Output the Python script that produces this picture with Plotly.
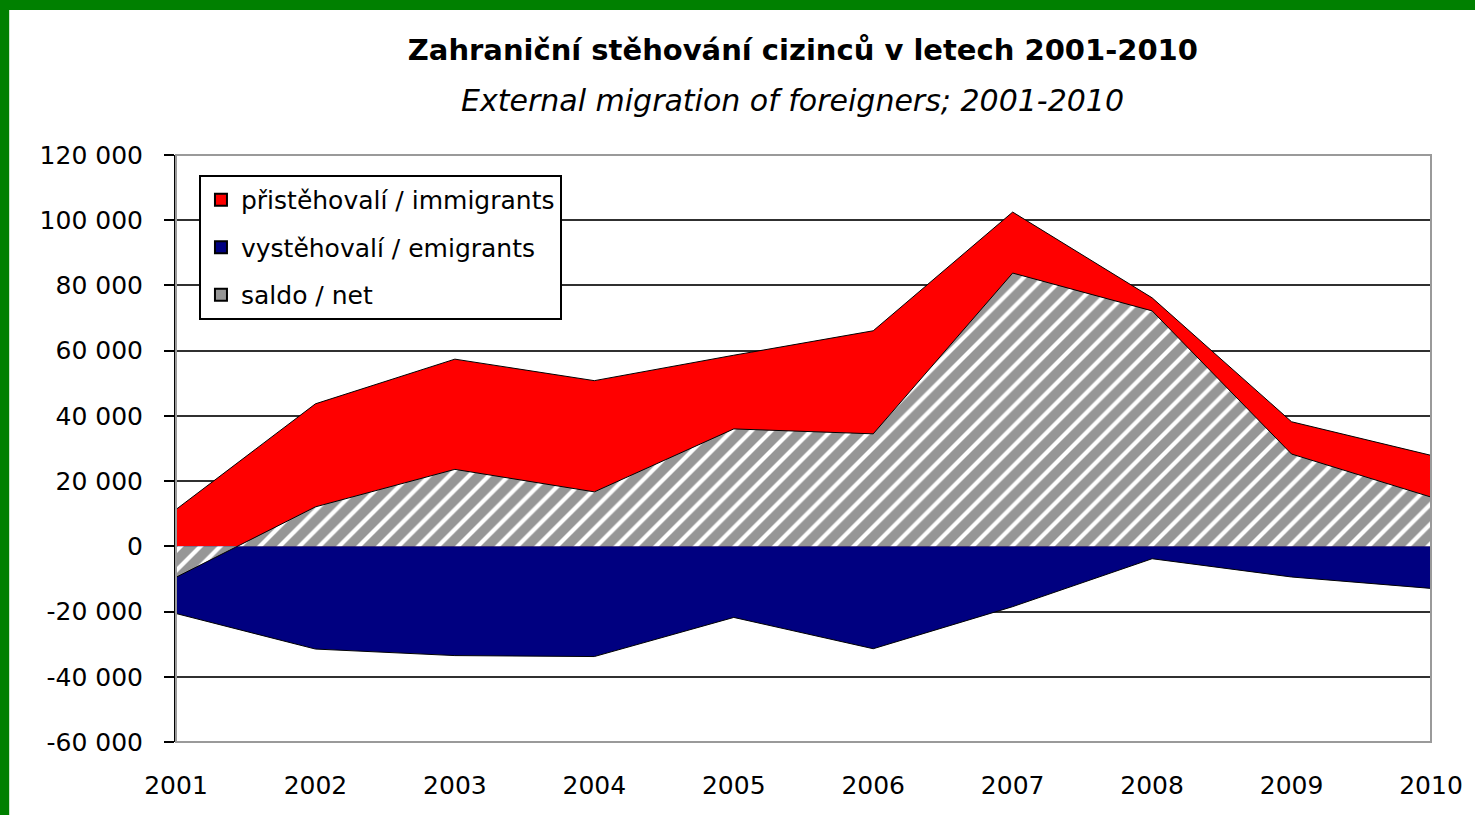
import plotly.graph_objects as go

years = [2001, 2002, 2003, 2004, 2005, 2006, 2007, 2008, 2009, 2010]
immigrants = [11300, 43700, 57400, 50800, 58600, 66100, 102500, 76200, 38200, 27900]
emigrants = [-20600, -31500, -33500, -33800, -21800, -31400, -18500, -3800, -9400, -12900]
net = [-9500, 12100, 23600, 16700, 36000, 34500, 83800, 72200, 28300, 15100]

y_ticks = [-60000, -40000, -20000, 0, 20000, 40000, 60000, 80000, 100000, 120000]
y_tick_labels = ["-60 000", "-40 000", "-20 000", "0", "20 000", "40 000",
                 "60 000", "80 000", "100 000", "120 000"]
x_tick_labels = [str(y) for y in years]

title_text = "Zahraniční stěhování cizinců v letech 2001-2010"
subtitle_text = "External migration of foreigners; 2001-2010"
names = ["přistěhovalí / immigrants", "vystěhovalí / emigrants", "saldo / net"]

RED = "#FF0000"
NAVY = "#000080"
GRAY = "#969696"
FONT = "DejaVu Sans"

fig = go.Figure()

fig.add_trace(go.Scatter(x=years, y=immigrants, fill="tozeroy", mode="lines",
                         line=dict(color="black", width=1), fillcolor=RED,
                         showlegend=False, hoverinfo="x+y"))
fig.add_trace(go.Scatter(x=years, y=emigrants, fill="tozeroy", mode="lines",
                         line=dict(color="black", width=1), fillcolor=NAVY,
                         showlegend=False, hoverinfo="x+y"))
fig.add_trace(go.Scatter(x=years, y=net, fill="tozeroy", mode="lines",
                         line=dict(color="black", width=1), fillcolor=GRAY,
                         fillpattern=dict(shape="/", bgcolor=GRAY, fgcolor="white",
                                          fgopacity=1, size=14, solidity=0.3),
                         showlegend=False, hoverinfo="x+y"))

# legend entries (square swatches)
for i, (nm, col) in enumerate(zip(names, [RED, NAVY, GRAY])):
    fig.add_trace(go.Scatter(x=[None], y=[None], mode="markers", name=nm,
                             legendgroup=f"g{i}",
                             marker=dict(symbol="square", size=12, color=col,
                                         line=dict(color="black", width=1.5))))

# free x-axis at y=0 carrying the zero line and its tick marks
zero_pos = (0 - y_ticks[0]) / (y_ticks[-1] - y_ticks[0])

fig.update_layout(
    width=1475, height=815,
    margin=dict(l=176, r=35, t=155, b=73),
    paper_bgcolor="white", plot_bgcolor="white",
    font=dict(family=FONT, color="black", size=24),
    title=dict(text=f"<b>{title_text}</b>", x=0.4995, xref="paper",
               y=1 - 50 / 815, yref="container", xanchor="center", yanchor="middle",
               font=dict(family=FONT, size=29, color="black")),
    showlegend=True,
    legend=dict(x=0.0183, y=0.966, xanchor="left", yanchor="top",
                bgcolor="white", bordercolor="black", borderwidth=2,
                font=dict(family=FONT, size=25, color="black"),
                tracegroupgap=12, itemsizing="constant"),
    xaxis=dict(range=[2001, 2010], tickvals=years, ticktext=x_tick_labels,
               showgrid=False, zeroline=False, showline=False, ticks="",
               ticklabelstandoff=26, tickfont=dict(family=FONT, size=25, color="black")),
    xaxis2=dict(range=[2001, 2010], overlaying="x", anchor="free", position=zero_pos,
                tickvals=years, showticklabels=False, ticks="outside", ticklen=6,
                tickwidth=1.5, tickcolor="black", showline=True, linecolor="black",
                linewidth=2, showgrid=False, zeroline=False, layer="above traces"),
    yaxis=dict(range=[y_ticks[0], y_ticks[-1]], tickvals=y_ticks, ticktext=y_tick_labels,
               showgrid=True, gridcolor="#303030", gridwidth=1.5, zeroline=False,
               showline=True, linecolor="black", linewidth=2, ticks="outside",
               ticklen=10, tickwidth=2, tickcolor="black", ticklabelstandoff=16,
               layer="above traces",
               tickfont=dict(family=FONT, size=25, color="black")),
    annotations=[dict(text=f"<i>{subtitle_text}</i>", x=0.491, y=(742 - 101) / 587,
                      xref="paper", yref="paper", xanchor="center", yanchor="middle",
                      showarrow=False, font=dict(family=FONT, size=30, color="black"))],
    shapes=[
        # plot-area border (grey) on top/right/bottom
        dict(type="rect", xref="paper", yref="paper", x0=0, x1=1, y0=0, y1=1,
             line=dict(color="#9a9a9a", width=2), layer="above"),
        # green frame: top and left
        dict(type="rect", xref="paper", yref="paper", x0=-0.2, x1=1.2,
             y0=(742 - 10) / 587, y1=1.3, fillcolor="#008000",
             line=dict(width=0), layer="above"),
        dict(type="rect", xref="paper", yref="paper", x0=-0.2, x1=(8 - 176) / 1264,
             y0=-0.2, y1=1.3, fillcolor="#008000",
             line=dict(width=0), layer="above"),
    ],
)

fig.write_html("out.html", config={"displayModeBar": False},
               post_script="document.body.style.margin='0';document.body.style.overflow='hidden';")
